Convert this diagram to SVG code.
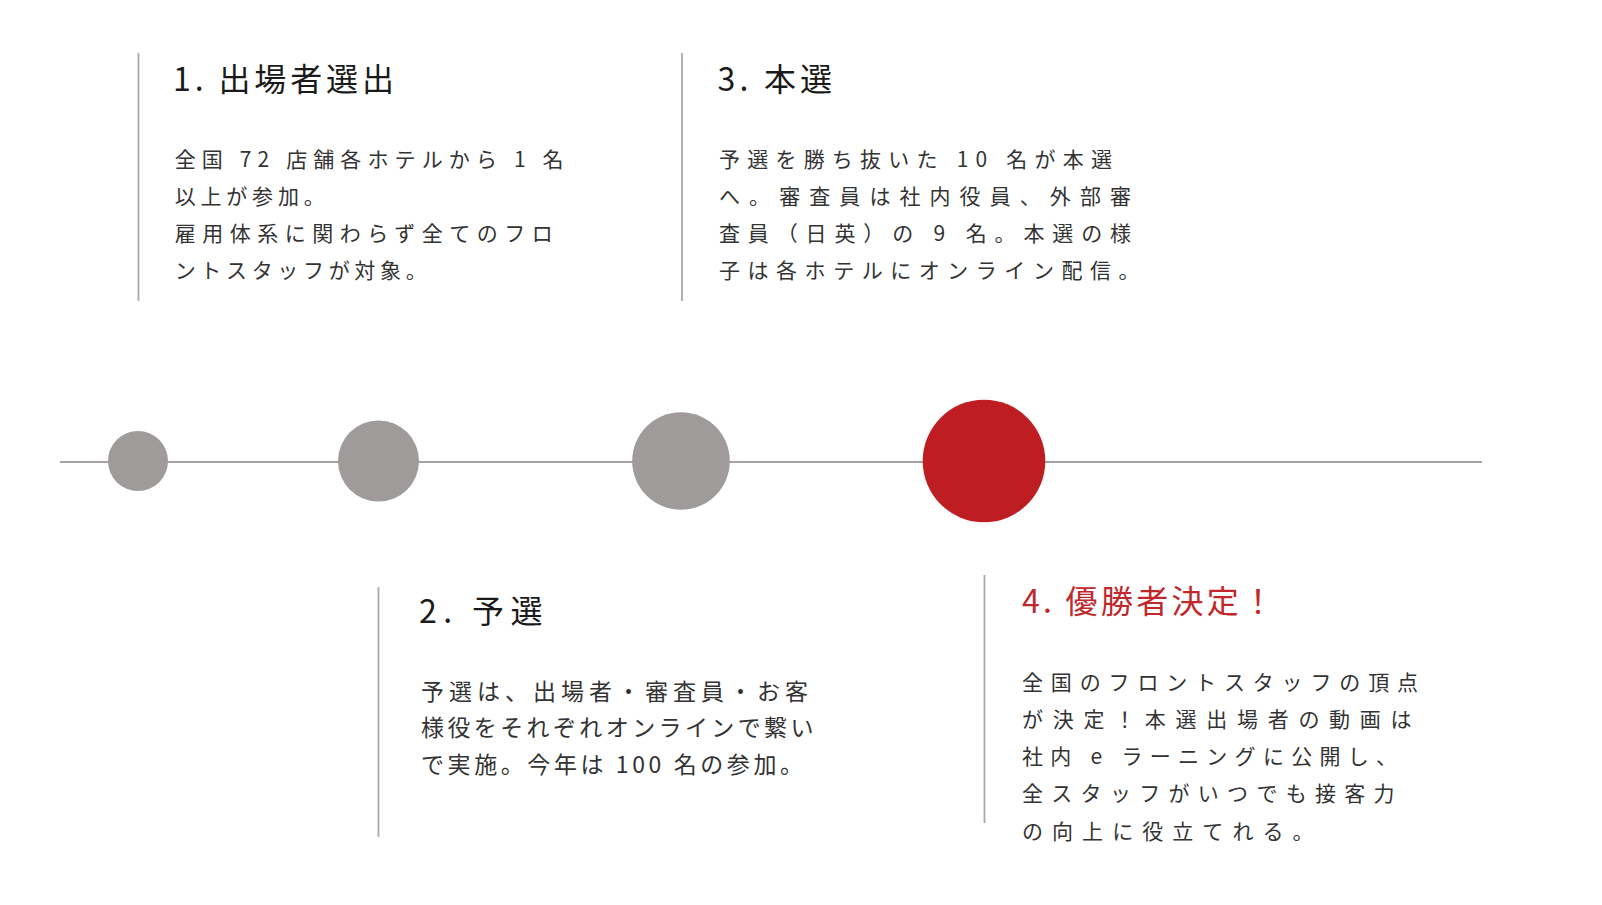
<svg xmlns="http://www.w3.org/2000/svg" width="1602" height="905" viewBox="0 0 1602 905">
<style>
.bg{fill:#ffffff}
.tl{stroke:#a5a2a1;stroke-width:2;fill:none}
.vl{stroke:#a9a9a9;stroke-width:1.8;fill:none}
.dot{fill:#9f9b9a}
.dot-red{fill:#be1e22}
.title{font-family:"Noto Sans CJK JP","Noto Sans",sans-serif;font-size:32px;font-weight:400;fill:#1a1a1a}
.title-red{fill:#c0282c}
.body{font-family:"Noto Sans CJK JP","Noto Sans",sans-serif;font-size:21px;font-weight:400;fill:#333333}
.body-lg{font-size:23px}
</style>
<rect class="bg" x="0" y="0" width="1602" height="905"/>
<g id="connectors">
<line class="tl" x1="60" y1="462" x2="1482" y2="462"/>
</g>
<g id="step1">
<circle class="dot" cx="138" cy="461" r="30"/>
<line class="vl" x1="138.5" y1="53" x2="138.5" y2="301"/>
<text class="title" x="173" y="90.5" textLength="221" lengthAdjust="spacing">1. 出場者選出</text>
<text class="body" x="174.7" y="167" textLength="388.8" lengthAdjust="spacing">全国 72 店舗各ホテルから 1 名</text>
<text class="body" x="174.7" y="204" textLength="150" lengthAdjust="spacing">以上が参加。</text>
<text class="body" x="174.7" y="241" textLength="378" lengthAdjust="spacing">雇用体系に関わらず全てのフロ</text>
<text class="body" x="174.7" y="278" textLength="252" lengthAdjust="spacing">ントスタッフが対象。</text>
</g>
<g id="step2">
<circle class="dot" cx="378.5" cy="461" r="40.5"/>
<line class="vl" x1="378.5" y1="587" x2="378.5" y2="837"/>
<text class="title" x="419" y="623" textLength="123.5" lengthAdjust="spacing">2. 予選</text>
<text class="body body-lg" x="421" y="699.5" textLength="387" lengthAdjust="spacing">予選は、出場者・審査員・お客</text>
<text class="body body-lg" x="421" y="736" textLength="392.5" lengthAdjust="spacing">様役をそれぞれオンラインで繋い</text>
<text class="body body-lg" x="421" y="772.5" textLength="382" lengthAdjust="spacing">で実施。今年は 100 名の参加。</text>
</g>
<g id="step3">
<circle class="dot" cx="681" cy="461" r="48.8"/>
<line class="vl" x1="682" y1="53" x2="682" y2="301"/>
<text class="title" x="717.5" y="90.5" textLength="114.6" lengthAdjust="spacing">3. 本選</text>
<text class="body" x="719" y="167" textLength="393" lengthAdjust="spacing">予選を勝ち抜いた 10 名が本選</text>
<text class="body" x="719" y="204" textLength="412" lengthAdjust="spacing">へ。審査員は社内役員、外部審</text>
<text class="body" x="719" y="241" textLength="412" lengthAdjust="spacing">査員（日英）の 9 名。本選の様</text>
<text class="body" x="719" y="278" textLength="420.5" lengthAdjust="spacing">子は各ホテルにオンライン配信。</text>
</g>
<g id="step4">
<circle class="dot-red" cx="984" cy="461" r="61.3"/>
<line class="vl" x1="984.5" y1="575" x2="984.5" y2="823"/>
<text class="title title-red" x="1022" y="613" textLength="252" lengthAdjust="spacing">4. 優勝者決定！</text>
<text class="body" x="1022" y="689.5" textLength="396" lengthAdjust="spacing">全国のフロントスタッフの頂点</text>
<text class="body" x="1022" y="726.5" textLength="389.5" lengthAdjust="spacing">が決定！本選出場者の動画は</text>
<text class="body" x="1022" y="764" textLength="375" lengthAdjust="spacing">社内 e ラーニングに公開し、</text>
<text class="body" x="1022" y="801" textLength="372.6" lengthAdjust="spacing">全スタッフがいつでも接客力</text>
<text class="body" x="1022" y="838.5" textLength="291.5" lengthAdjust="spacing">の向上に役立てれる。</text>
</g>
</svg>
